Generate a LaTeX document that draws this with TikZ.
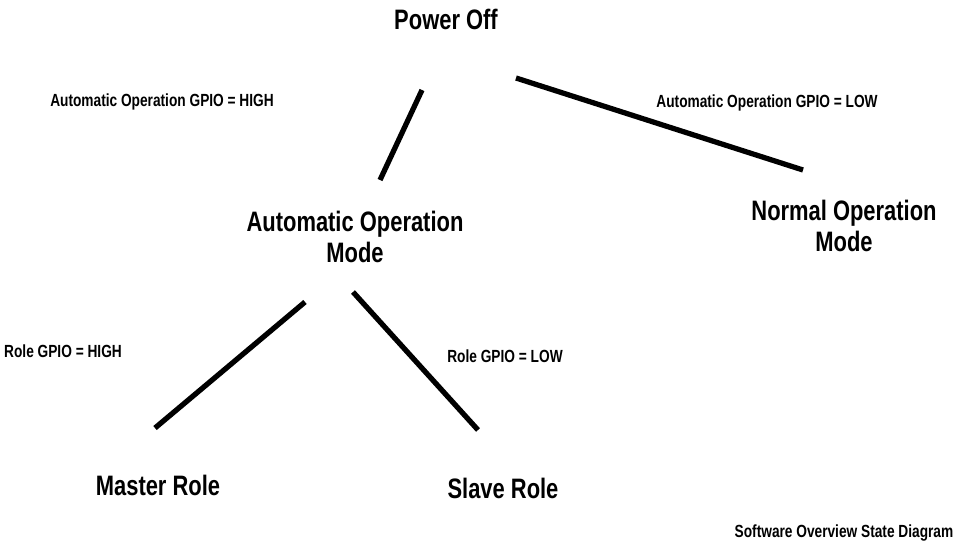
\documentclass[tikz,border=0pt]{standalone}
\usepackage{fontspec}
\setmainfont{Liberation Sans}[FakeStretch=0.78]
\begin{document}
\begin{tikzpicture}[x=0.02cm, y=-0.02cm,
    state/.style={font=\bfseries\fontsize{16}{17.5}\selectfont, align=center, inner sep=0pt},
    cond/.style={font=\bfseries\fontsize{10}{12}\selectfont, inner sep=0pt},
    trans/.style={line width=3pt}]
    \useasboundingbox (0, 0) rectangle (955, 544);

    \node (off)[state] at (446, 19) {Power Off};
    \node (auto)[state] at (355, 237) {Automatic Operation\\Mode};
    \node (normal)[state] at (844, 226) {Normal Operation\\Mode};
    \node (master)[state] at (158, 485) {Master Role};
    \node (slave)[state] at (503, 488) {Slave Role};

    \node (autohigh)[cond] at (162, 102) {Automatic Operation GPIO = HIGH};
    \node (autolow)[cond] at (767, 103) {Automatic Operation GPIO = LOW};
    \node (rolehigh)[cond] at (63, 351) {Role GPIO = HIGH};
    \node (rolelow)[cond] at (505, 356) {Role GPIO = LOW};
    \node (caption)[cond] at (844, 533) {Software Overview State Diagram};

    \coordinate (t1a) at (422, 90);
    \coordinate (t1b) at (380, 180);
    \coordinate (t2a) at (516, 78);
    \coordinate (t2b) at (803, 170);
    \coordinate (t3a) at (305, 302);
    \coordinate (t3b) at (155, 428);
    \coordinate (t4a) at (353, 292);
    \coordinate (t4b) at (478, 430);

    \draw [trans] (t1a) -- (t1b);
    \draw [trans] (t2a) -- (t2b);
    \draw [trans] (t3a) -- (t3b);
    \draw [trans] (t4a) -- (t4b);
\end{tikzpicture}
\end{document}
